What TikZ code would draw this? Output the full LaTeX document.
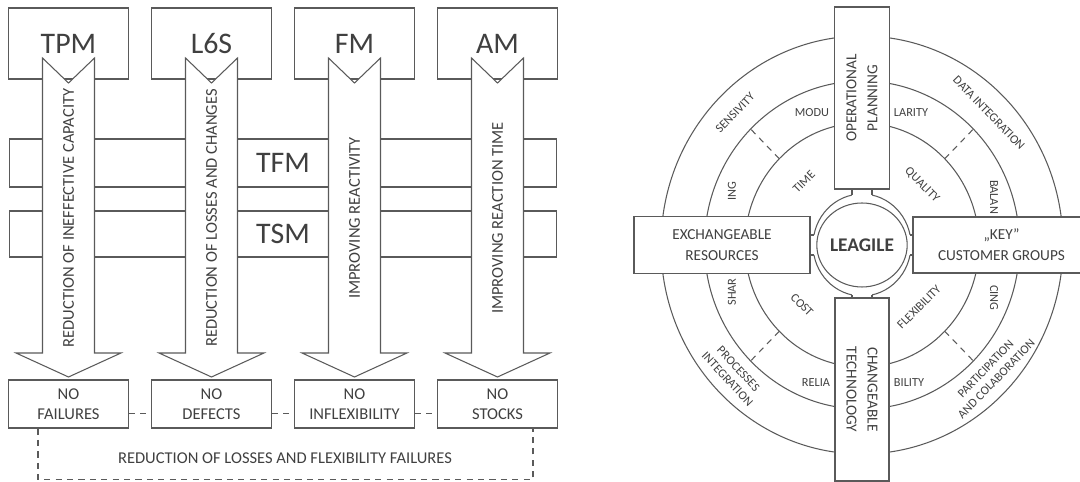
\documentclass[tikz,border=0pt]{standalone}
\usepackage{fontspec}
\setmainfont{Carlito}
\usetikzlibrary{calc,shapes.geometric}
\definecolor{linegray}{HTML}{5A5A5A}
\definecolor{textgray}{HTML}{404040}

\begin{document}
\begin{tikzpicture}[x=0.02cm, y=-0.02cm, line width=0.6pt,
    every node/.style={text=textgray, inner sep=0pt},
    block/.style={draw=linegray, fill=white, minimum width=2.39cm},
    bigtext/.style={font=\fontsize{17}{20}\selectfont},
    smalltext/.style={font=\fontsize{9.4}{11.3}\selectfont, align=center},
    ringtext/.style={font=\fontsize{7}{8.5}\selectfont, align=center},
    boxtext/.style={font=\fontsize{8.7}{12}\selectfont, align=center},
    dashlink/.style={draw=linegray, dash pattern=on 3.5pt off 3pt},
    bigarrow/.style={draw=linegray, fill=white}]
  \useasboundingbox (0,0) rectangle (1080,482);
  \def \hw {26}
  \def \hh {52.5}

  % left part: methods and goals
  \node[block, minimum width=10.96cm, minimum height=0.96cm, bigtext] (tfm) at (283,163) {TFM};
  \node[block, minimum width=10.96cm, minimum height=0.92cm, bigtext] (tsm) at (283,234) {TSM};
  \node[block, minimum height=1.42cm, bigtext] (tpm) at (68.5,43.5) {TPM};
  \node[block, minimum height=1.42cm, bigtext] (lss) at (211.5,43.5) {L6S};
  \node[block, minimum height=1.42cm, bigtext] (fm) at (354.5,43.5) {FM};
  \node[block, minimum height=1.42cm, bigtext] (am) at (497.5,43.5) {AM};

  \foreach \cx/\lbl [count=\i] in {68.5/REDUCTION OF INEFFECTIVE CAPACITY,
      211.5/REDUCTION OF LOSSES AND CHANGES, 354.5/IMPROVING REACTIVITY,
      497.5/IMPROVING REACTION TIME}{
    \draw[bigarrow] (\cx-\hw,58) -- (\cx,83) -- (\cx+\hw,58) -- (\cx+\hw,353)
      -- (\cx+\hh,353) -- (\cx,377) -- (\cx-\hh,353) -- (\cx-\hw,353) -- cycle;
    \node[smalltext, rotate=90] (goal\i) at (\cx,218) {\lbl};
  }

  \node[block, minimum height=0.96cm, smalltext] (nf) at (68.5,404) {NO\\FAILURES};
  \node[block, minimum height=0.96cm, smalltext] (nd) at (211.5,404) {NO\\DEFECTS};
  \node[block, minimum height=0.96cm, smalltext] (ni) at (354.5,404) {NO\\INFLEXIBILITY};
  \node[block, minimum height=0.96cm, smalltext] (ns) at (497.5,404) {NO\\STOCKS};
  \draw[dashlink] ($(nf.east)!0.375!(nf.south east)$) -- ($(nd.west)!0.375!(nd.south west)$);
  \draw[dashlink] ($(nd.east)!0.375!(nd.south east)$) -- ($(ni.west)!0.375!(ni.south west)$);
  \draw[dashlink] ($(ni.east)!0.375!(ni.south east)$) -- ($(ns.west)!0.375!(ns.south west)$);
  \draw[dashlink] ([xshift=-0.61cm]nf.south) -- ++(0,51) -| ([xshift=0.71cm]ns.south);
  \node[smalltext] (loss) at (285,458) {REDUCTION OF LOSSES AND FLEXIBILITY FAILURES};

  % right part: leagile wheel
  \coordinate (c) at (862,245);
  \foreach \rx/\ry in {201/209, 157.5/164, 117/122}
    \draw[linegray] (c) ellipse [x radius=\rx, y radius=\ry];
  \foreach \a in {45,135,225,315}
    \draw[dashlink] ($(c)+(\a:117 and 122)$) -- ($(c)+(\a:157.5 and 164)$);
  \draw[linegray] (c) ellipse [x radius=49, y radius=51];
  \fill[white] ($(c)+(-10,-53)$) rectangle ($(c)+(10,-47.5)$);
  \fill[white] ($(c)+(-10,47.5)$) rectangle ($(c)+(10,53)$);
  \fill[white] ($(c)+(-51,-10)$) rectangle ($(c)+(-45.5,10)$);
  \fill[white] ($(c)+(45.5,-10)$) rectangle ($(c)+(51,10)$);
  \node[draw=linegray, ellipse, minimum width=1.58cm, minimum height=1.68cm,
    font=\fontsize{11}{13}\selectfont\bfseries] (lea) at (c) {LEAGILE};

  \node[draw=linegray, fill=white, minimum width=3.64cm, minimum height=1.1cm,
    rotate=90, boxtext] (op) at (862,98) {OPERATIONAL\\PLANNING};
  \node[draw=linegray, fill=white, minimum width=3.66cm, minimum height=1.08cm,
    rotate=-90, boxtext] (ct) at (862,389.5) {CHANGEABLE\\TECHNOLOGY};
  \node[draw=linegray, fill=white, minimum width=3.52cm, minimum height=1.14cm,
    boxtext] (er) at (722,245) {EXCHANGEABLE\\RESOURCES};
  \node[draw=linegray, fill=white, minimum width=3.54cm, minimum height=1.12cm,
    boxtext] (kc) at (1001.5,245) {„KEY”\\CUSTOMER GROUPS};
  \foreach \s in {-10,10}{
    \draw[linegray] ($(op.west)+(\s,0)$) -- ($(c)+(\s,-49.9)$);
    \draw[linegray] ($(ct.west)+(\s,0)$) -- ($(c)+(\s,49.9)$);
    \draw[linegray] ($(er.east)+(0,\s)$) -- ($(c)+(-48.05,\s)$);
    \draw[linegray] ($(kc.west)+(0,\s)$) -- ($(c)+(48.05,\s)$);
  }

  \node[ringtext, rotate=45] (time) at (804,182) {TIME};
  \node[ringtext, rotate=-45] (quality) at (922,185) {QUALITY};
  \node[ringtext, rotate=-45] (cost) at (802,305) {COST};
  \node[ringtext, rotate=45] (flex) at (919,307) {FLEXIBILITY};
  \node[ringtext] (modu) at (812,113) {MODU};
  \node[ringtext] (larity) at (911,113) {LARITY};
  \node[ringtext, rotate=90] (ing) at (732,191) {ING};
  \node[ringtext, rotate=90] (shar) at (732,292) {SHAR};
  \node[ringtext, rotate=-90] (balan) at (994,197) {BALAN};
  \node[ringtext, rotate=-90] (cing) at (994,298) {CING};
  \node[ringtext] (relia) at (816,383) {RELIA};
  \node[ringtext] (bility) at (909,383) {BILITY};
  \node[ringtext, rotate=46] (sens) at (735,113) {SENSIVITY};
  \node[ringtext, rotate=-46] (data) at (989,113) {DATA INTEGRATION};
  \node[ringtext, rotate=-47] (proc) at (733,374) {PROCESSES\\INTEGRATION};
  \node[ringtext, rotate=46] (part) at (991,374) {PARTICIPATION\\AND COLABORATION};
\end{tikzpicture}
\end{document}
